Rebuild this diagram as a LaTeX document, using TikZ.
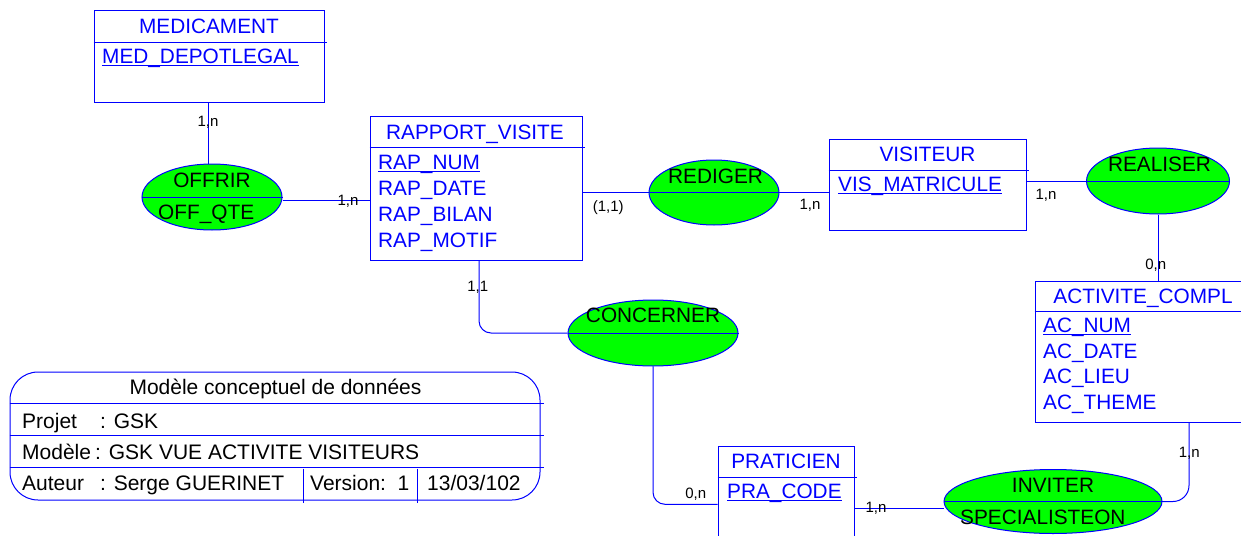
\documentclass[tikz,border=0pt]{standalone}
\usepackage{fontspec}
\setmainfont{Liberation Sans}
\usetikzlibrary{shapes.geometric}
\definecolor{ebl}{RGB}{0,0,255}
\definecolor{rgreen}{RGB}{0,255,0}
\tikzset{
 conn/.style={draw=ebl, line width=1pt},
 entbox/.style={draw=ebl, line width=1pt, inner sep=0pt, fill=white},
 assoc/.style={ellipse, draw=ebl, fill=rgreen, line width=1pt, inner sep=0pt},
 etxt/.style={text=ebl, font=\fontsize{20.8}{24}\selectfont, inner sep=0pt},
 atxt/.style={text=black, font=\fontsize{20.8}{24}\selectfont, inner sep=0pt},
 ttxt/.style={text=black, font=\fontsize{21}{25}\selectfont, inner sep=0pt},
 card/.style={text=black, font=\fontsize{15}{18}\selectfont, inner sep=0pt, anchor=base},
}
\begin{document}
\begin{tikzpicture}[x=1pt,y=-1pt]
\useasboundingbox (0,0) rectangle (1241,535);

% ---------- entities ----------
\node[entbox, minimum width=230, minimum height=91] (med) at (209,56.5) {};
\node[entbox, minimum width=212, minimum height=144] (rap) at (476,188) {};
\node[entbox, minimum width=197, minimum height=91] (vis) at (927.5,184.5) {};
\node[entbox, minimum width=216, minimum height=141] (act) at (1143,351.5) {};
\node[entbox, minimum width=136, minimum height=114] (pra) at (786,503) {};

\foreach \e/\d in {med/32,rap/32,vis/32,act/31,pra/32}{
  \draw[conn] ([yshift=-\d]\e.north west) -- ([xshift=2,yshift=-\d]\e.north east);
}

% entity texts
\node[etxt, anchor=base] (medt) at (209,33.3) {MEDICAMENT};
\node[etxt, anchor=base west] (meda) at (102,63.3) {MED\_DEPOTLEGAL};
\draw[conn] ([yshift=-2]meda.base west) -- ([yshift=-2]meda.base east);

\node[etxt, anchor=base] (rapt) at (475,139.3) {RAPPORT\_VISITE};
\node[etxt, anchor=base west] (rapa) at (378,169.3) {RAP\_NUM};
\draw[conn] ([yshift=-2]rapa.base west) -- ([yshift=-2]rapa.base east);
\node[etxt, anchor=base west] (rapb) at (378,195.3) {RAP\_DATE};
\node[etxt, anchor=base west] (rapc) at (378,221.3) {RAP\_BILAN};
\node[etxt, anchor=base west] (rapd) at (378,247.3) {RAP\_MOTIF};

\node[etxt, anchor=base] (vist) at (927.5,161) {VISITEUR};
\node[etxt, anchor=base west] (visa) at (838,191) {VIS\_MATRICULE};
\draw[conn] ([yshift=-2]visa.base west) -- ([yshift=-2]visa.base east);

\node[etxt, anchor=base] (actt) at (1143,303.3) {ACTIVITE\_COMPL};
\node[etxt, anchor=base west] (acta) at (1043,332.3) {AC\_NUM};
\draw[conn] ([yshift=-2]acta.base west) -- ([yshift=-2]acta.base east);
\node[etxt, anchor=base west] (actb) at (1043,358.3) {AC\_DATE};
\node[etxt, anchor=base west] (actc) at (1043,383.3) {AC\_LIEU};
\node[etxt, anchor=base west] (actd) at (1043,409.3) {AC\_THEME};

\node[etxt, anchor=base] (prat) at (786,468.3) {PRATICIEN};
\node[etxt, anchor=base west] (praa) at (727,498.3) {PRA\_CODE};
\draw[conn] ([yshift=-2]praa.base west) -- ([yshift=-2]praa.base east);

% ---------- associations ----------
\node[assoc, minimum width=140, minimum height=66] (offrir) at (212,197) {};
\node[assoc, minimum width=130, minimum height=65] (rediger) at (714,192.5) {};
\node[assoc, minimum width=143, minimum height=66] (realiser) at (1158,181) {};
\node[assoc, minimum width=170, minimum height=66] (concerner) at (653,333) {};
\node[assoc, minimum width=218, minimum height=64] (inviter) at (1053,501.5) {};

\foreach \a in {offrir,rediger,realiser,concerner,inviter}{
  \draw[conn] (\a.west) -- (\a.east);
}

\node[atxt, anchor=base] (offt) at (212,187.3) {OFFRIR};
\node[atxt, anchor=base west] (offa) at (158,219) {OFF\_QTE};
\node[atxt, anchor=base] (redt) at (715.5,183.3) {REDIGER};
\node[atxt, anchor=base] (reat) at (1159.5,171) {REALISER};
\node[atxt, anchor=base] (cont) at (653,322.7) {CONCERNER};
\node[atxt, anchor=base] (invt) at (1053,492) {INVITER};
\node[atxt, anchor=base west] (inva) at (960,524.3) {SPECIALISTEON};

% ---------- connectors ----------
\draw[conn] ([xshift=-4]offrir.north) -- ([xshift=-4]offrir.north |- med.south);
\draw[conn] ([yshift=-3]offrir.east) -- ([yshift=-3]offrir.east -| rap.west);
\draw[conn] (rediger.west -| rap.east) -- (rediger.west);
\draw[conn] (rediger.east) -- (rediger.east -| vis.west);
\draw[conn] (realiser.west -| vis.east) -- (realiser.west);
\draw[conn] (realiser.south) -- (realiser.south |- act.north);
\draw[conn, rounded corners=16] ([xshift=46]act.south) |- (inviter.east);
\draw[conn, rounded corners=12] ([xshift=3]rap.south) |- (concerner.west);
\draw[conn, rounded corners=12] (concerner.south) |- ([yshift=-6]praa.base -| pra.west);
\draw[conn] ([yshift=-7]inviter.west -| pra.east) -- ([yshift=-7]inviter.west);

% ---------- cardinalities ----------
\node[card] (c1) at (208,126) {1,n};
\node[card] (c2) at (348,205) {1,n};
\node[card] (c3) at (608.3,211.7) {(1,1)};
\node[card] (c4) at (810,209.3) {1,n};
\node[card] (c5) at (1046,199) {1,n};
\node[card] (c6) at (1155.7,269) {0,n};
\node[card] (c7) at (477.7,291.7) {1,1};
\node[card] (c8) at (695.7,498.3) {0,n};
\node[card] (c9) at (1189.3,457.3) {1,n};
\node[card] (c10) at (876,512.7) {1,n};

% ---------- title block ----------
\node[draw=ebl, line width=1pt, rounded corners=28, minimum width=530, minimum height=128, inner sep=0pt] (cart) at (275,436) {};
\foreach \d in {32,64,96}{
  \draw[conn] ([yshift=-\d]cart.north west) -- ([xshift=3,yshift=-\d]cart.north east);
}
\draw[conn] ([xshift=294,yshift=32]cart.south west) -- ([xshift=294,yshift=-2]cart.south west);
\draw[conn] ([xshift=408,yshift=32]cart.south west) -- ([xshift=408,yshift=-2]cart.south west);

\node[ttxt, anchor=base] (tt) at (275.5,394) {Modèle conceptuel de données};
\node[ttxt, anchor=base west] (tp1) at (22,428) {Projet};
\node[ttxt, anchor=base west] (tp2) at (100,428) {: GSK};
\node[ttxt, anchor=base west] (tm1) at (22,459) {Modèle};
\node[ttxt, anchor=base west] (tm2) at (95,459) {: GSK VUE ACTIVITE VISITEURS};
\node[ttxt, anchor=base west] (ta1) at (22,490) {Auteur};
\node[ttxt, anchor=base west] (ta2) at (100,490) {: Serge GUERINET};
\node[ttxt, anchor=base west] (tv) at (310,490) {Version:\ \ 1};
\node[ttxt, anchor=base west] (td) at (427,490) {13/03/102};
\end{tikzpicture}
\end{document}
